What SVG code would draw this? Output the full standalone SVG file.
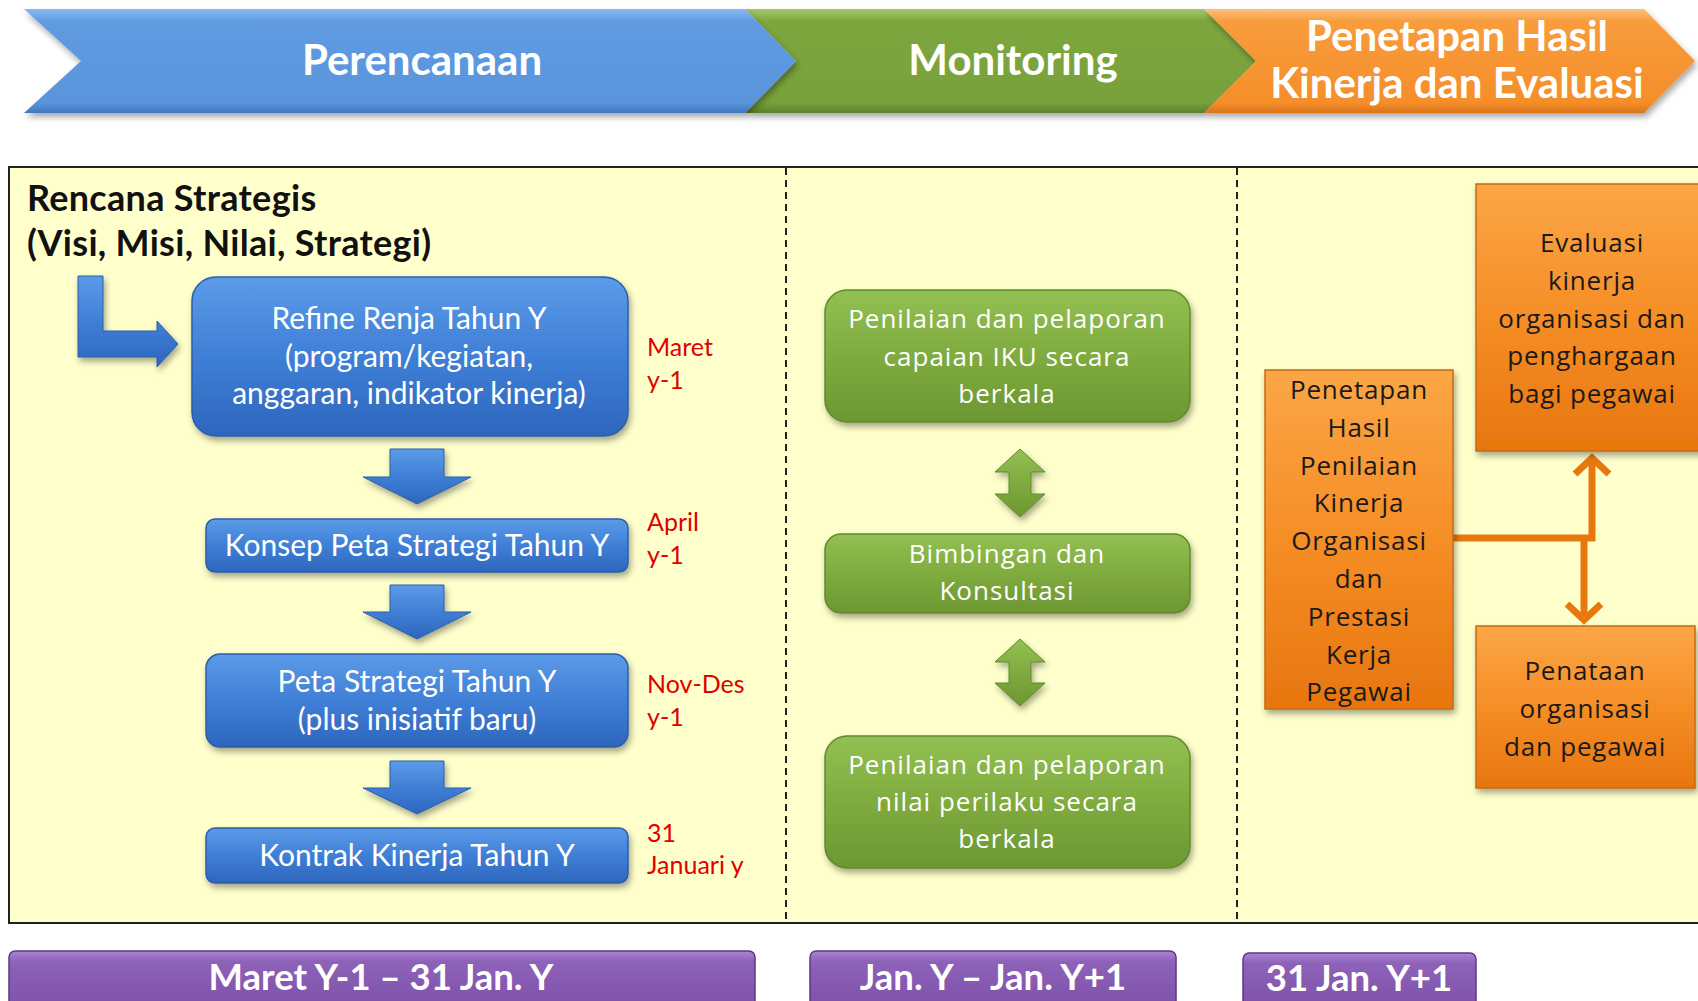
<svg xmlns="http://www.w3.org/2000/svg" width="1698" height="1001" viewBox="0 0 1698 1001">
<defs>
<linearGradient id="gBlueBar" x1="0" y1="0" x2="0" y2="1"><stop offset="0" stop-color="#8ab8f0"/><stop offset="0.12" stop-color="#5f9be2"/><stop offset="0.9" stop-color="#5a95dc"/><stop offset="1" stop-color="#3f77bf"/></linearGradient>
<linearGradient id="gGreenBar" x1="0" y1="0" x2="0" y2="1"><stop offset="0" stop-color="#a2c86a"/><stop offset="0.12" stop-color="#7ea63e"/><stop offset="0.9" stop-color="#78a13a"/><stop offset="1" stop-color="#5d8229"/></linearGradient>
<linearGradient id="gOrangeBar" x1="0" y1="0" x2="0" y2="1"><stop offset="0" stop-color="#fcc07a"/><stop offset="0.12" stop-color="#f89c3c"/><stop offset="0.9" stop-color="#f58e2a"/><stop offset="1" stop-color="#d9741a"/></linearGradient>
<linearGradient id="gBlue" x1="0" y1="0" x2="0" y2="1"><stop offset="0" stop-color="#5c9be8"/><stop offset="0.5" stop-color="#3f7fd6"/><stop offset="1" stop-color="#2e66bd"/></linearGradient>
<linearGradient id="gGreen" x1="0" y1="0" x2="0" y2="1"><stop offset="0" stop-color="#93c052"/><stop offset="0.5" stop-color="#7fab3f"/><stop offset="1" stop-color="#6c9732"/></linearGradient>
<linearGradient id="gOrange" x1="0" y1="0" x2="0" y2="1"><stop offset="0" stop-color="#fba646"/><stop offset="0.5" stop-color="#f68e26"/><stop offset="1" stop-color="#e7760f"/></linearGradient>
<linearGradient id="gPurple" x1="0" y1="0" x2="0" y2="1"><stop offset="0" stop-color="#a985cf"/><stop offset="0.15" stop-color="#8d62b8"/><stop offset="1" stop-color="#7a4ca6"/></linearGradient>
<filter id="sh" x="-10%" y="-10%" width="125%" height="130%"><feDropShadow dx="2" dy="4" stdDeviation="3" flood-color="#000" flood-opacity="0.35"/></filter>
<marker id="vhead" markerUnits="userSpaceOnUse" markerWidth="40" markerHeight="40" refX="20" refY="20" orient="auto" viewBox="0 0 40 40"><path d="M4,3 L20,20 L4,37" fill="none" stroke="#e8780e" stroke-width="7"/></marker>
</defs>
<style>
.hdr{font-family:Lato,"Liberation Sans",sans-serif;font-weight:bold;fill:#fff;text-anchor:middle;font-size:42px}
.bt{font-family:Lato,"Liberation Sans",sans-serif;fill:#fff;text-anchor:middle;font-size:30px}
.red{font-family:Lato,"Liberation Sans",sans-serif;fill:#e00000;font-size:25px}
.gt{font-family:"Open Sans","DejaVu Sans",sans-serif;fill:#fff;text-anchor:middle;font-size:26px;letter-spacing:1px}
.ot{font-family:"Open Sans","DejaVu Sans",sans-serif;fill:#1a1a1a;text-anchor:middle;font-size:26px;letter-spacing:0.8px}
.pt{font-family:Lato,"Liberation Sans",sans-serif;font-weight:bold;fill:#fff;text-anchor:middle;font-size:36.5px}
.rs{font-family:Lato,"Liberation Sans",sans-serif;font-weight:bold;font-size:36px;letter-spacing:0.3px;fill:#111}
.bbox{fill:url(#gBlue);stroke:#2c5ea8;stroke-width:1.5;filter:url(#sh)}
.gbox{fill:url(#gGreen);stroke:#5f8a2c;stroke-width:1.5;filter:url(#sh)}
.obox{fill:url(#gOrange);stroke:#c96a12;stroke-width:1.5;filter:url(#sh)}
.pbox{fill:url(#gPurple);stroke:#5e3785;stroke-width:1.5}
.conn{fill:none;stroke:#e8780e;stroke-width:7}
</style>
<rect width="1698" height="1001" fill="#fff"/>
<g id="banner">
<polygon points="745,9 1204,9 1256,61 1204,113 745,113 796,61" fill="url(#gGreenBar)" filter="url(#sh)"/>
<polygon points="1204,9 1644,9 1695,61 1644,113 1204,113 1256,61" fill="url(#gOrangeBar)" filter="url(#sh)"/>
<polygon points="24,9 745,9 796,61 745,113 24,113 81,61" fill="url(#gBlueBar)" filter="url(#sh)"/>
<text class="hdr" x="422" y="75">Perencanaan</text>
<text class="hdr" x="1013" y="75">Monitoring</text>
<text class="hdr" x="1457" y="51">Penetapan Hasil</text>
<text class="hdr" x="1457" y="98">Kinerja dan Evaluasi</text>
</g>
<g id="panel">
<rect x="9" y="167" width="1700" height="756" fill="#ffffcc" stroke="#222" stroke-width="2"/>
<line x1="786" y1="168" x2="786" y2="922" stroke="#222" stroke-width="2" stroke-dasharray="7,5"/>
<line x1="1237" y1="168" x2="1237" y2="922" stroke="#222" stroke-width="2" stroke-dasharray="7,5"/>
</g>
<g id="renstra">
<text class="rs" x="27" y="211">Rencana Strategis</text>
<text class="rs" x="27" y="256">(Visi, Misi, Nilai, Strategi)</text>
</g>
<g id="connectors">
<path d="M78,276 H103 V331 H157 V321 L178,344 L157,367 V357 H78 Z" fill="url(#gBlue)" stroke="#2c5ea8" stroke-width="1" filter="url(#sh)"/>
<path d="M390,449 H444 V477 H471 L417,504 L363,477 H390 Z" fill="url(#gBlue)" stroke="#2c5ea8" stroke-width="1" filter="url(#sh)"/>
<path d="M390,585 H444 V612 H471 L417,639 L363,612 H390 Z" fill="url(#gBlue)" stroke="#2c5ea8" stroke-width="1" filter="url(#sh)"/>
<path d="M390,761 H444 V788 H471 L417,814 L363,788 H390 Z" fill="url(#gBlue)" stroke="#2c5ea8" stroke-width="1" filter="url(#sh)"/>
<path d="M1020,449 L1045,472 H1031 V494 H1045 L1020,517 L995,494 H1009 V472 H995 Z" fill="url(#gGreen)" stroke="#5f8a2c" stroke-width="1" filter="url(#sh)"/>
<path d="M1020,639 L1045,662 H1031 V683 H1045 L1020,706 L995,683 H1009 V662 H995 Z" fill="url(#gGreen)" stroke="#5f8a2c" stroke-width="1" filter="url(#sh)"/>
<path class="conn" d="M1453,538 H1595"/>
<path class="conn" d="M1592,541 V458" marker-end="url(#vhead)"/>
<path class="conn" d="M1584,538 V620" marker-end="url(#vhead)"/>
</g>
<g id="b1">
<rect class="bbox" x="192" y="277" width="436" height="159" rx="24"/>
<text class="bt" x="409" y="329">Refine Renja Tahun Y</text>
<text class="bt" x="409" y="367">(program/kegiatan,</text>
<text class="bt" x="409" y="404">anggaran, indikator kinerja)</text>
<text class="red" x="647" y="356">Maret</text>
<text class="red" x="647" y="389">y-1</text>
</g>
<g id="b2">
<rect class="bbox" x="206" y="519" width="422" height="53" rx="9"/>
<text class="bt" x="417" y="556">Konsep Peta Strategi Tahun Y</text>
<text class="red" x="647" y="531">April</text>
<text class="red" x="647" y="564">y-1</text>
</g>
<g id="b3">
<rect class="bbox" x="206" y="654" width="422" height="93" rx="14"/>
<text class="bt" x="417" y="692">Peta Strategi Tahun Y</text>
<text class="bt" x="417" y="730">(plus inisiatif baru)</text>
<text class="red" x="647" y="693">Nov-Des</text>
<text class="red" x="647" y="726">y-1</text>
</g>
<g id="b4">
<rect class="bbox" x="206" y="828" width="422" height="55" rx="9"/>
<text class="bt" x="417" y="866">Kontrak Kinerja Tahun Y</text>
<text class="red" x="647" y="842">31</text>
<text class="red" x="647" y="874">Januari y</text>
</g>
<g id="g1">
<rect class="gbox" x="825" y="290" width="365" height="132" rx="22"/>
<text class="gt" x="1007" y="328">Penilaian dan pelaporan</text>
<text class="gt" x="1007" y="366">capaian IKU secara</text>
<text class="gt" x="1007" y="403">berkala</text>
</g>
<g id="g2">
<rect class="gbox" x="825" y="534" width="365" height="79" rx="16"/>
<text class="gt" x="1007" y="563">Bimbingan dan</text>
<text class="gt" x="1007" y="600">Konsultasi</text>
</g>
<g id="g3">
<rect class="gbox" x="825" y="736" width="365" height="132" rx="22"/>
<text class="gt" x="1007" y="774">Penilaian dan pelaporan</text>
<text class="gt" x="1007" y="811">nilai perilaku secara</text>
<text class="gt" x="1007" y="848">berkala</text>
</g>
<g id="o1">
<rect class="obox" x="1265" y="370" width="188" height="339"/>
<text class="ot" x="1359" y="399">Penetapan</text>
<text class="ot" x="1359" y="437">Hasil</text>
<text class="ot" x="1359" y="475">Penilaian</text>
<text class="ot" x="1359" y="512">Kinerja</text>
<text class="ot" x="1359" y="550">Organisasi</text>
<text class="ot" x="1359" y="588">dan</text>
<text class="ot" x="1359" y="626">Prestasi</text>
<text class="ot" x="1359" y="664">Kerja</text>
<text class="ot" x="1359" y="701">Pegawai</text>
</g>
<g id="o2">
<rect class="obox" x="1476" y="184" width="240" height="267"/>
<text class="ot" x="1592" y="252">Evaluasi</text>
<text class="ot" x="1592" y="290">kinerja</text>
<text class="ot" x="1592" y="328">organisasi dan</text>
<text class="ot" x="1592" y="365">penghargaan</text>
<text class="ot" x="1592" y="403">bagi pegawai</text>
</g>
<g id="o3">
<rect class="obox" x="1476" y="626" width="219" height="162"/>
<text class="ot" x="1585" y="680">Penataan</text>
<text class="ot" x="1585" y="718">organisasi</text>
<text class="ot" x="1585" y="756">dan pegawai</text>
</g>
<g id="p1">
<rect class="pbox" x="9" y="951" width="746" height="70" rx="6"/>
<text class="pt" x="381" y="990">Maret Y-1 – 31 Jan. Y</text>
</g>
<g id="p2">
<rect class="pbox" x="810" y="951" width="366" height="70" rx="6"/>
<text class="pt" x="993" y="990">Jan. Y – Jan. Y+1</text>
</g>
<g id="p3">
<rect class="pbox" x="1243" y="953" width="233" height="70" rx="6"/>
<text class="pt" x="1359" y="991">31 Jan. Y+1</text>
</g>
</svg>
